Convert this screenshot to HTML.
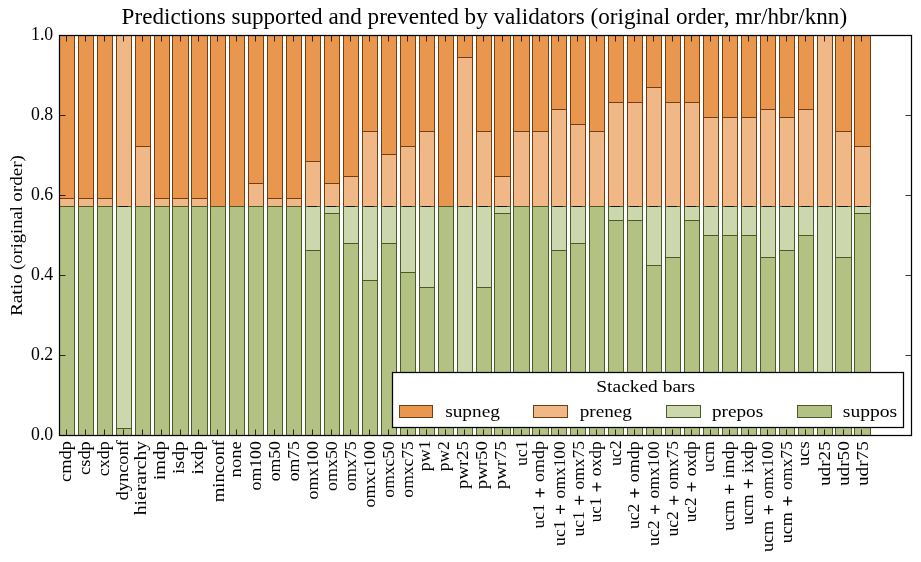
<!DOCTYPE html>
<html><head><meta charset="utf-8"><style>html,body{margin:0;padding:0;background:#fff;width:921px;height:562px;overflow:hidden}</style></head>
<body>
<svg width="921" height="562" viewBox="0 0 921 562" style="display:block;will-change:transform">
<rect width="921" height="562" fill="#fff"/>
<rect x="59.5" y="35.5" width="15" height="163" fill="#e9964f" stroke="#763e10" stroke-width="1"/>
<rect x="59.5" y="198.5" width="15" height="8" fill="#f1b887" stroke="#763e10" stroke-width="1"/>
<path d="M59 206.5H75" stroke="#4b5a26" stroke-width="1"/>
<rect x="59.5" y="206.5" width="15" height="229" fill="#b3c182" stroke="#4b5a26" stroke-width="1"/>
<rect x="78.5" y="35.5" width="15" height="163" fill="#e9964f" stroke="#763e10" stroke-width="1"/>
<rect x="78.5" y="198.5" width="15" height="8" fill="#f1b887" stroke="#763e10" stroke-width="1"/>
<path d="M78 206.5H94" stroke="#4b5a26" stroke-width="1"/>
<rect x="78.5" y="206.5" width="15" height="229" fill="#b3c182" stroke="#4b5a26" stroke-width="1"/>
<rect x="97.5" y="35.5" width="15" height="163" fill="#e9964f" stroke="#763e10" stroke-width="1"/>
<rect x="97.5" y="198.5" width="15" height="8" fill="#f1b887" stroke="#763e10" stroke-width="1"/>
<path d="M97 206.5H113" stroke="#4b5a26" stroke-width="1"/>
<rect x="97.5" y="206.5" width="15" height="229" fill="#b3c182" stroke="#4b5a26" stroke-width="1"/>
<path d="M116 35.5H132" stroke="#763e10" stroke-width="1"/>
<rect x="116.5" y="35.5" width="15" height="171" fill="#f1b887" stroke="#763e10" stroke-width="1"/>
<rect x="116.5" y="206.5" width="15" height="222" fill="#cdd7ad" stroke="#4b5a26" stroke-width="1"/>
<rect x="116.5" y="428.5" width="15" height="7" fill="#b3c182" stroke="#4b5a26" stroke-width="1"/>
<path d="M119 206.5H128" stroke="#141a0e" stroke-width="1"/>
<rect x="135.5" y="35.5" width="15" height="111" fill="#e9964f" stroke="#763e10" stroke-width="1"/>
<rect x="135.5" y="146.5" width="15" height="60" fill="#f1b887" stroke="#763e10" stroke-width="1"/>
<path d="M135 206.5H151" stroke="#4b5a26" stroke-width="1"/>
<rect x="135.5" y="206.5" width="15" height="229" fill="#b3c182" stroke="#4b5a26" stroke-width="1"/>
<rect x="154.5" y="35.5" width="15" height="163" fill="#e9964f" stroke="#763e10" stroke-width="1"/>
<rect x="154.5" y="198.5" width="15" height="8" fill="#f1b887" stroke="#763e10" stroke-width="1"/>
<path d="M154 206.5H170" stroke="#4b5a26" stroke-width="1"/>
<rect x="154.5" y="206.5" width="15" height="229" fill="#b3c182" stroke="#4b5a26" stroke-width="1"/>
<rect x="172.5" y="35.5" width="16" height="163" fill="#e9964f" stroke="#763e10" stroke-width="1"/>
<rect x="172.5" y="198.5" width="16" height="8" fill="#f1b887" stroke="#763e10" stroke-width="1"/>
<path d="M172 206.5H189" stroke="#4b5a26" stroke-width="1"/>
<rect x="172.5" y="206.5" width="16" height="229" fill="#b3c182" stroke="#4b5a26" stroke-width="1"/>
<rect x="191.5" y="35.5" width="16" height="163" fill="#e9964f" stroke="#763e10" stroke-width="1"/>
<rect x="191.5" y="198.5" width="16" height="8" fill="#f1b887" stroke="#763e10" stroke-width="1"/>
<path d="M191 206.5H208" stroke="#4b5a26" stroke-width="1"/>
<rect x="191.5" y="206.5" width="16" height="229" fill="#b3c182" stroke="#4b5a26" stroke-width="1"/>
<rect x="210.5" y="35.5" width="15" height="171" fill="#e9964f" stroke="#763e10" stroke-width="1"/>
<path d="M210 206.5H226" stroke="#763e10" stroke-width="1"/>
<path d="M210 206.5H226" stroke="#4b5a26" stroke-width="1"/>
<rect x="210.5" y="206.5" width="15" height="229" fill="#b3c182" stroke="#4b5a26" stroke-width="1"/>
<rect x="229.5" y="35.5" width="15" height="171" fill="#e9964f" stroke="#763e10" stroke-width="1"/>
<path d="M229 206.5H245" stroke="#763e10" stroke-width="1"/>
<path d="M229 206.5H245" stroke="#4b5a26" stroke-width="1"/>
<rect x="229.5" y="206.5" width="15" height="229" fill="#b3c182" stroke="#4b5a26" stroke-width="1"/>
<rect x="248.5" y="35.5" width="15" height="148" fill="#e9964f" stroke="#763e10" stroke-width="1"/>
<rect x="248.5" y="183.5" width="15" height="23" fill="#f1b887" stroke="#763e10" stroke-width="1"/>
<path d="M248 206.5H264" stroke="#4b5a26" stroke-width="1"/>
<rect x="248.5" y="206.5" width="15" height="229" fill="#b3c182" stroke="#4b5a26" stroke-width="1"/>
<rect x="267.5" y="35.5" width="15" height="163" fill="#e9964f" stroke="#763e10" stroke-width="1"/>
<rect x="267.5" y="198.5" width="15" height="8" fill="#f1b887" stroke="#763e10" stroke-width="1"/>
<path d="M267 206.5H283" stroke="#4b5a26" stroke-width="1"/>
<rect x="267.5" y="206.5" width="15" height="229" fill="#b3c182" stroke="#4b5a26" stroke-width="1"/>
<rect x="286.5" y="35.5" width="15" height="163" fill="#e9964f" stroke="#763e10" stroke-width="1"/>
<rect x="286.5" y="198.5" width="15" height="8" fill="#f1b887" stroke="#763e10" stroke-width="1"/>
<path d="M286 206.5H302" stroke="#4b5a26" stroke-width="1"/>
<rect x="286.5" y="206.5" width="15" height="229" fill="#b3c182" stroke="#4b5a26" stroke-width="1"/>
<rect x="305.5" y="35.5" width="15" height="126" fill="#e9964f" stroke="#763e10" stroke-width="1"/>
<rect x="305.5" y="161.5" width="15" height="45" fill="#f1b887" stroke="#763e10" stroke-width="1"/>
<rect x="305.5" y="206.5" width="15" height="44" fill="#cdd7ad" stroke="#4b5a26" stroke-width="1"/>
<rect x="305.5" y="250.5" width="15" height="185" fill="#b3c182" stroke="#4b5a26" stroke-width="1"/>
<path d="M308 206.5H317" stroke="#141a0e" stroke-width="1"/>
<rect x="324.5" y="35.5" width="15" height="148" fill="#e9964f" stroke="#763e10" stroke-width="1"/>
<rect x="324.5" y="183.5" width="15" height="23" fill="#f1b887" stroke="#763e10" stroke-width="1"/>
<rect x="324.5" y="206.5" width="15" height="7" fill="#cdd7ad" stroke="#4b5a26" stroke-width="1"/>
<rect x="324.5" y="213.5" width="15" height="222" fill="#b3c182" stroke="#4b5a26" stroke-width="1"/>
<path d="M327 206.5H336" stroke="#141a0e" stroke-width="1"/>
<rect x="343.5" y="35.5" width="15" height="141" fill="#e9964f" stroke="#763e10" stroke-width="1"/>
<rect x="343.5" y="176.5" width="15" height="30" fill="#f1b887" stroke="#763e10" stroke-width="1"/>
<rect x="343.5" y="206.5" width="15" height="37" fill="#cdd7ad" stroke="#4b5a26" stroke-width="1"/>
<rect x="343.5" y="243.5" width="15" height="192" fill="#b3c182" stroke="#4b5a26" stroke-width="1"/>
<path d="M346 206.5H355" stroke="#141a0e" stroke-width="1"/>
<rect x="362.5" y="35.5" width="15" height="96" fill="#e9964f" stroke="#763e10" stroke-width="1"/>
<rect x="362.5" y="131.5" width="15" height="75" fill="#f1b887" stroke="#763e10" stroke-width="1"/>
<rect x="362.5" y="206.5" width="15" height="74" fill="#cdd7ad" stroke="#4b5a26" stroke-width="1"/>
<rect x="362.5" y="280.5" width="15" height="155" fill="#b3c182" stroke="#4b5a26" stroke-width="1"/>
<path d="M365 206.5H374" stroke="#141a0e" stroke-width="1"/>
<rect x="381.5" y="35.5" width="15" height="119" fill="#e9964f" stroke="#763e10" stroke-width="1"/>
<rect x="381.5" y="154.5" width="15" height="52" fill="#f1b887" stroke="#763e10" stroke-width="1"/>
<rect x="381.5" y="206.5" width="15" height="37" fill="#cdd7ad" stroke="#4b5a26" stroke-width="1"/>
<rect x="381.5" y="243.5" width="15" height="192" fill="#b3c182" stroke="#4b5a26" stroke-width="1"/>
<path d="M384 206.5H393" stroke="#141a0e" stroke-width="1"/>
<rect x="400.5" y="35.5" width="15" height="111" fill="#e9964f" stroke="#763e10" stroke-width="1"/>
<rect x="400.5" y="146.5" width="15" height="60" fill="#f1b887" stroke="#763e10" stroke-width="1"/>
<rect x="400.5" y="206.5" width="15" height="66" fill="#cdd7ad" stroke="#4b5a26" stroke-width="1"/>
<rect x="400.5" y="272.5" width="15" height="163" fill="#b3c182" stroke="#4b5a26" stroke-width="1"/>
<path d="M403 206.5H412" stroke="#141a0e" stroke-width="1"/>
<rect x="419.5" y="35.5" width="15" height="96" fill="#e9964f" stroke="#763e10" stroke-width="1"/>
<rect x="419.5" y="131.5" width="15" height="75" fill="#f1b887" stroke="#763e10" stroke-width="1"/>
<rect x="419.5" y="206.5" width="15" height="81" fill="#cdd7ad" stroke="#4b5a26" stroke-width="1"/>
<rect x="419.5" y="287.5" width="15" height="148" fill="#b3c182" stroke="#4b5a26" stroke-width="1"/>
<path d="M422 206.5H431" stroke="#141a0e" stroke-width="1"/>
<rect x="438.5" y="35.5" width="15" height="171" fill="#e9964f" stroke="#763e10" stroke-width="1"/>
<path d="M438 206.5H454" stroke="#763e10" stroke-width="1"/>
<path d="M438 206.5H454" stroke="#4b5a26" stroke-width="1"/>
<rect x="438.5" y="206.5" width="15" height="229" fill="#b3c182" stroke="#4b5a26" stroke-width="1"/>
<rect x="457.5" y="35.5" width="15" height="22" fill="#e9964f" stroke="#763e10" stroke-width="1"/>
<rect x="457.5" y="57.5" width="15" height="149" fill="#f1b887" stroke="#763e10" stroke-width="1"/>
<rect x="457.5" y="206.5" width="15" height="214" fill="#cdd7ad" stroke="#4b5a26" stroke-width="1"/>
<rect x="457.5" y="420.5" width="15" height="15" fill="#b3c182" stroke="#4b5a26" stroke-width="1"/>
<path d="M460 206.5H469" stroke="#141a0e" stroke-width="1"/>
<rect x="476.5" y="35.5" width="15" height="96" fill="#e9964f" stroke="#763e10" stroke-width="1"/>
<rect x="476.5" y="131.5" width="15" height="75" fill="#f1b887" stroke="#763e10" stroke-width="1"/>
<rect x="476.5" y="206.5" width="15" height="81" fill="#cdd7ad" stroke="#4b5a26" stroke-width="1"/>
<rect x="476.5" y="287.5" width="15" height="148" fill="#b3c182" stroke="#4b5a26" stroke-width="1"/>
<path d="M479 206.5H488" stroke="#141a0e" stroke-width="1"/>
<rect x="494.5" y="35.5" width="16" height="141" fill="#e9964f" stroke="#763e10" stroke-width="1"/>
<rect x="494.5" y="176.5" width="16" height="30" fill="#f1b887" stroke="#763e10" stroke-width="1"/>
<rect x="494.5" y="206.5" width="16" height="7" fill="#cdd7ad" stroke="#4b5a26" stroke-width="1"/>
<rect x="494.5" y="213.5" width="16" height="222" fill="#b3c182" stroke="#4b5a26" stroke-width="1"/>
<path d="M497 206.5H507" stroke="#141a0e" stroke-width="1"/>
<rect x="513.5" y="35.5" width="16" height="96" fill="#e9964f" stroke="#763e10" stroke-width="1"/>
<rect x="513.5" y="131.5" width="16" height="75" fill="#f1b887" stroke="#763e10" stroke-width="1"/>
<path d="M513 206.5H530" stroke="#4b5a26" stroke-width="1"/>
<rect x="513.5" y="206.5" width="16" height="229" fill="#b3c182" stroke="#4b5a26" stroke-width="1"/>
<rect x="532.5" y="35.5" width="16" height="96" fill="#e9964f" stroke="#763e10" stroke-width="1"/>
<rect x="532.5" y="131.5" width="16" height="75" fill="#f1b887" stroke="#763e10" stroke-width="1"/>
<path d="M532 206.5H549" stroke="#4b5a26" stroke-width="1"/>
<rect x="532.5" y="206.5" width="16" height="229" fill="#b3c182" stroke="#4b5a26" stroke-width="1"/>
<rect x="551.5" y="35.5" width="15" height="74" fill="#e9964f" stroke="#763e10" stroke-width="1"/>
<rect x="551.5" y="109.5" width="15" height="97" fill="#f1b887" stroke="#763e10" stroke-width="1"/>
<rect x="551.5" y="206.5" width="15" height="44" fill="#cdd7ad" stroke="#4b5a26" stroke-width="1"/>
<rect x="551.5" y="250.5" width="15" height="185" fill="#b3c182" stroke="#4b5a26" stroke-width="1"/>
<path d="M554 206.5H563" stroke="#141a0e" stroke-width="1"/>
<rect x="570.5" y="35.5" width="15" height="89" fill="#e9964f" stroke="#763e10" stroke-width="1"/>
<rect x="570.5" y="124.5" width="15" height="82" fill="#f1b887" stroke="#763e10" stroke-width="1"/>
<rect x="570.5" y="206.5" width="15" height="37" fill="#cdd7ad" stroke="#4b5a26" stroke-width="1"/>
<rect x="570.5" y="243.5" width="15" height="192" fill="#b3c182" stroke="#4b5a26" stroke-width="1"/>
<path d="M573 206.5H582" stroke="#141a0e" stroke-width="1"/>
<rect x="589.5" y="35.5" width="15" height="96" fill="#e9964f" stroke="#763e10" stroke-width="1"/>
<rect x="589.5" y="131.5" width="15" height="75" fill="#f1b887" stroke="#763e10" stroke-width="1"/>
<path d="M589 206.5H605" stroke="#4b5a26" stroke-width="1"/>
<rect x="589.5" y="206.5" width="15" height="229" fill="#b3c182" stroke="#4b5a26" stroke-width="1"/>
<rect x="608.5" y="35.5" width="15" height="67" fill="#e9964f" stroke="#763e10" stroke-width="1"/>
<rect x="608.5" y="102.5" width="15" height="104" fill="#f1b887" stroke="#763e10" stroke-width="1"/>
<rect x="608.5" y="206.5" width="15" height="14" fill="#cdd7ad" stroke="#4b5a26" stroke-width="1"/>
<rect x="608.5" y="220.5" width="15" height="215" fill="#b3c182" stroke="#4b5a26" stroke-width="1"/>
<path d="M611 206.5H620" stroke="#141a0e" stroke-width="1"/>
<rect x="627.5" y="35.5" width="15" height="67" fill="#e9964f" stroke="#763e10" stroke-width="1"/>
<rect x="627.5" y="102.5" width="15" height="104" fill="#f1b887" stroke="#763e10" stroke-width="1"/>
<rect x="627.5" y="206.5" width="15" height="14" fill="#cdd7ad" stroke="#4b5a26" stroke-width="1"/>
<rect x="627.5" y="220.5" width="15" height="215" fill="#b3c182" stroke="#4b5a26" stroke-width="1"/>
<path d="M630 206.5H639" stroke="#141a0e" stroke-width="1"/>
<rect x="646.5" y="35.5" width="15" height="52" fill="#e9964f" stroke="#763e10" stroke-width="1"/>
<rect x="646.5" y="87.5" width="15" height="119" fill="#f1b887" stroke="#763e10" stroke-width="1"/>
<rect x="646.5" y="206.5" width="15" height="59" fill="#cdd7ad" stroke="#4b5a26" stroke-width="1"/>
<rect x="646.5" y="265.5" width="15" height="170" fill="#b3c182" stroke="#4b5a26" stroke-width="1"/>
<path d="M649 206.5H658" stroke="#141a0e" stroke-width="1"/>
<rect x="665.5" y="35.5" width="15" height="67" fill="#e9964f" stroke="#763e10" stroke-width="1"/>
<rect x="665.5" y="102.5" width="15" height="104" fill="#f1b887" stroke="#763e10" stroke-width="1"/>
<rect x="665.5" y="206.5" width="15" height="51" fill="#cdd7ad" stroke="#4b5a26" stroke-width="1"/>
<rect x="665.5" y="257.5" width="15" height="178" fill="#b3c182" stroke="#4b5a26" stroke-width="1"/>
<path d="M668 206.5H677" stroke="#141a0e" stroke-width="1"/>
<rect x="684.5" y="35.5" width="15" height="67" fill="#e9964f" stroke="#763e10" stroke-width="1"/>
<rect x="684.5" y="102.5" width="15" height="104" fill="#f1b887" stroke="#763e10" stroke-width="1"/>
<rect x="684.5" y="206.5" width="15" height="14" fill="#cdd7ad" stroke="#4b5a26" stroke-width="1"/>
<rect x="684.5" y="220.5" width="15" height="215" fill="#b3c182" stroke="#4b5a26" stroke-width="1"/>
<path d="M687 206.5H696" stroke="#141a0e" stroke-width="1"/>
<rect x="703.5" y="35.5" width="15" height="82" fill="#e9964f" stroke="#763e10" stroke-width="1"/>
<rect x="703.5" y="117.5" width="15" height="89" fill="#f1b887" stroke="#763e10" stroke-width="1"/>
<rect x="703.5" y="206.5" width="15" height="29" fill="#cdd7ad" stroke="#4b5a26" stroke-width="1"/>
<rect x="703.5" y="235.5" width="15" height="200" fill="#b3c182" stroke="#4b5a26" stroke-width="1"/>
<path d="M706 206.5H715" stroke="#141a0e" stroke-width="1"/>
<rect x="722.5" y="35.5" width="15" height="82" fill="#e9964f" stroke="#763e10" stroke-width="1"/>
<rect x="722.5" y="117.5" width="15" height="89" fill="#f1b887" stroke="#763e10" stroke-width="1"/>
<rect x="722.5" y="206.5" width="15" height="29" fill="#cdd7ad" stroke="#4b5a26" stroke-width="1"/>
<rect x="722.5" y="235.5" width="15" height="200" fill="#b3c182" stroke="#4b5a26" stroke-width="1"/>
<path d="M725 206.5H734" stroke="#141a0e" stroke-width="1"/>
<rect x="741.5" y="35.5" width="15" height="82" fill="#e9964f" stroke="#763e10" stroke-width="1"/>
<rect x="741.5" y="117.5" width="15" height="89" fill="#f1b887" stroke="#763e10" stroke-width="1"/>
<rect x="741.5" y="206.5" width="15" height="29" fill="#cdd7ad" stroke="#4b5a26" stroke-width="1"/>
<rect x="741.5" y="235.5" width="15" height="200" fill="#b3c182" stroke="#4b5a26" stroke-width="1"/>
<path d="M744 206.5H753" stroke="#141a0e" stroke-width="1"/>
<rect x="760.5" y="35.5" width="15" height="74" fill="#e9964f" stroke="#763e10" stroke-width="1"/>
<rect x="760.5" y="109.5" width="15" height="97" fill="#f1b887" stroke="#763e10" stroke-width="1"/>
<rect x="760.5" y="206.5" width="15" height="51" fill="#cdd7ad" stroke="#4b5a26" stroke-width="1"/>
<rect x="760.5" y="257.5" width="15" height="178" fill="#b3c182" stroke="#4b5a26" stroke-width="1"/>
<path d="M763 206.5H772" stroke="#141a0e" stroke-width="1"/>
<rect x="779.5" y="35.5" width="15" height="82" fill="#e9964f" stroke="#763e10" stroke-width="1"/>
<rect x="779.5" y="117.5" width="15" height="89" fill="#f1b887" stroke="#763e10" stroke-width="1"/>
<rect x="779.5" y="206.5" width="15" height="44" fill="#cdd7ad" stroke="#4b5a26" stroke-width="1"/>
<rect x="779.5" y="250.5" width="15" height="185" fill="#b3c182" stroke="#4b5a26" stroke-width="1"/>
<path d="M782 206.5H791" stroke="#141a0e" stroke-width="1"/>
<rect x="798.5" y="35.5" width="15" height="74" fill="#e9964f" stroke="#763e10" stroke-width="1"/>
<rect x="798.5" y="109.5" width="15" height="97" fill="#f1b887" stroke="#763e10" stroke-width="1"/>
<rect x="798.5" y="206.5" width="15" height="29" fill="#cdd7ad" stroke="#4b5a26" stroke-width="1"/>
<rect x="798.5" y="235.5" width="15" height="200" fill="#b3c182" stroke="#4b5a26" stroke-width="1"/>
<path d="M801 206.5H810" stroke="#141a0e" stroke-width="1"/>
<path d="M817 35.5H833" stroke="#763e10" stroke-width="1"/>
<rect x="817.5" y="35.5" width="15" height="171" fill="#f1b887" stroke="#763e10" stroke-width="1"/>
<rect x="817.5" y="206.5" width="15" height="214" fill="#cdd7ad" stroke="#4b5a26" stroke-width="1"/>
<rect x="817.5" y="420.5" width="15" height="15" fill="#b3c182" stroke="#4b5a26" stroke-width="1"/>
<path d="M820 206.5H829" stroke="#141a0e" stroke-width="1"/>
<rect x="835.5" y="35.5" width="16" height="96" fill="#e9964f" stroke="#763e10" stroke-width="1"/>
<rect x="835.5" y="131.5" width="16" height="75" fill="#f1b887" stroke="#763e10" stroke-width="1"/>
<rect x="835.5" y="206.5" width="16" height="51" fill="#cdd7ad" stroke="#4b5a26" stroke-width="1"/>
<rect x="835.5" y="257.5" width="16" height="178" fill="#b3c182" stroke="#4b5a26" stroke-width="1"/>
<path d="M838 206.5H848" stroke="#141a0e" stroke-width="1"/>
<rect x="854.5" y="35.5" width="16" height="111" fill="#e9964f" stroke="#763e10" stroke-width="1"/>
<rect x="854.5" y="146.5" width="16" height="60" fill="#f1b887" stroke="#763e10" stroke-width="1"/>
<rect x="854.5" y="206.5" width="16" height="7" fill="#cdd7ad" stroke="#4b5a26" stroke-width="1"/>
<rect x="854.5" y="213.5" width="16" height="222" fill="#b3c182" stroke="#4b5a26" stroke-width="1"/>
<path d="M857 206.5H867" stroke="#141a0e" stroke-width="1"/>
<rect x="59.5" y="35.5" width="852" height="400" fill="none" stroke="#000" stroke-width="1.25"/>
<path d="M66.5 35.5v6M66.5 435.5v-6M85.5 35.5v6M85.5 435.5v-6M104.5 35.5v6M104.5 435.5v-6M123.5 35.5v6M123.5 435.5v-6M142.5 35.5v6M142.5 435.5v-6M161.5 35.5v6M161.5 435.5v-6M180.5 35.5v6M180.5 435.5v-6M198.5 35.5v6M198.5 435.5v-6M217.5 35.5v6M217.5 435.5v-6M236.5 35.5v6M236.5 435.5v-6M255.5 35.5v6M255.5 435.5v-6M274.5 35.5v6M274.5 435.5v-6M293.5 35.5v6M293.5 435.5v-6M312.5 35.5v6M312.5 435.5v-6M331.5 35.5v6M331.5 435.5v-6M350.5 35.5v6M350.5 435.5v-6M369.5 35.5v6M369.5 435.5v-6M388.5 35.5v6M388.5 435.5v-6M407.5 35.5v6M407.5 435.5v-6M426.5 35.5v6M426.5 435.5v-6M445.5 35.5v6M445.5 435.5v-6M464.5 35.5v6M464.5 435.5v-6M483.5 35.5v6M483.5 435.5v-6M502.5 35.5v6M502.5 435.5v-6M521.5 35.5v6M521.5 435.5v-6M539.5 35.5v6M539.5 435.5v-6M558.5 35.5v6M558.5 435.5v-6M577.5 35.5v6M577.5 435.5v-6M596.5 35.5v6M596.5 435.5v-6M615.5 35.5v6M615.5 435.5v-6M634.5 35.5v6M634.5 435.5v-6M653.5 35.5v6M653.5 435.5v-6M672.5 35.5v6M672.5 435.5v-6M691.5 35.5v6M691.5 435.5v-6M710.5 35.5v6M710.5 435.5v-6M729.5 35.5v6M729.5 435.5v-6M748.5 35.5v6M748.5 435.5v-6M767.5 35.5v6M767.5 435.5v-6M786.5 35.5v6M786.5 435.5v-6M805.5 35.5v6M805.5 435.5v-6M824.5 35.5v6M824.5 435.5v-6M843.5 35.5v6M843.5 435.5v-6M861.5 35.5v6M861.5 435.5v-6M59.5 435.5h6M911.5 435.5h-6M59.5 355.5h6M911.5 355.5h-6M59.5 275.5h6M911.5 275.5h-6M59.5 195.5h6M911.5 195.5h-6M59.5 115.5h6M911.5 115.5h-6M59.5 35.5h6M911.5 35.5h-6" stroke="#000" stroke-width="0.8" fill="none"/>
<text x="53.2" y="439.77" font-family="Liberation Serif" font-size="17.8" text-anchor="end" textLength="22.17" lengthAdjust="spacingAndGlyphs">0.0</text>
<text x="53.2" y="359.77" font-family="Liberation Serif" font-size="17.8" text-anchor="end" textLength="22.17" lengthAdjust="spacingAndGlyphs">0.2</text>
<text x="53.2" y="279.77" font-family="Liberation Serif" font-size="17.8" text-anchor="end" textLength="22.17" lengthAdjust="spacingAndGlyphs">0.4</text>
<text x="53.2" y="199.77" font-family="Liberation Serif" font-size="17.8" text-anchor="end" textLength="22.17" lengthAdjust="spacingAndGlyphs">0.6</text>
<text x="53.2" y="119.77" font-family="Liberation Serif" font-size="17.8" text-anchor="end" textLength="22.17" lengthAdjust="spacingAndGlyphs">0.8</text>
<text x="53.2" y="39.77" font-family="Liberation Serif" font-size="17.8" text-anchor="end" textLength="22.17" lengthAdjust="spacingAndGlyphs">1.0</text>
<text transform="translate(70.72,441.18) rotate(-90)" x="-40.81" y="0" font-family="Liberation Serif" font-size="17.35" textLength="40.81" lengthAdjust="spacingAndGlyphs">cmdp</text>
<text transform="translate(89.66,441.18) rotate(-90)" x="-33.75" y="0" font-family="Liberation Serif" font-size="17.35" textLength="33.75" lengthAdjust="spacingAndGlyphs">csdp</text>
<text transform="translate(108.60,441.18) rotate(-90)" x="-34.96" y="0" font-family="Liberation Serif" font-size="17.35" textLength="34.96" lengthAdjust="spacingAndGlyphs">cxdp</text>
<text transform="translate(127.64,440.06) rotate(-90)" x="-60.51" y="0" font-family="Liberation Serif" font-size="17.35" textLength="60.51" lengthAdjust="spacingAndGlyphs">dynconf</text>
<text transform="translate(146.49,440.78) rotate(-90)" x="-74.56" y="0" font-family="Liberation Serif" font-size="17.35" textLength="74.56" lengthAdjust="spacingAndGlyphs">hierarchy</text>
<text transform="translate(165.43,441.18) rotate(-90)" x="-38.73" y="0" font-family="Liberation Serif" font-size="17.35" textLength="38.73" lengthAdjust="spacingAndGlyphs">imdp</text>
<text transform="translate(184.38,441.18) rotate(-90)" x="-32.79" y="0" font-family="Liberation Serif" font-size="17.35" textLength="32.79" lengthAdjust="spacingAndGlyphs">isdp</text>
<text transform="translate(203.32,441.18) rotate(-90)" x="-33.36" y="0" font-family="Liberation Serif" font-size="17.35" textLength="33.36" lengthAdjust="spacingAndGlyphs">ixdp</text>
<text transform="translate(223.94,440.06) rotate(-90)" x="-62.26" y="0" font-family="Liberation Serif" font-size="17.35" textLength="62.26" lengthAdjust="spacingAndGlyphs">minconf</text>
<text transform="translate(240.60,441.18) rotate(-90)" x="-36.23" y="0" font-family="Liberation Serif" font-size="17.35" textLength="36.23" lengthAdjust="spacingAndGlyphs">none</text>
<text transform="translate(261.40,441.18) rotate(-90)" x="-49.31" y="0" font-family="Liberation Serif" font-size="17.35" textLength="49.31" lengthAdjust="spacingAndGlyphs">om100</text>
<text transform="translate(280.34,441.18) rotate(-90)" x="-40.16" y="0" font-family="Liberation Serif" font-size="17.35" textLength="40.16" lengthAdjust="spacingAndGlyphs">om50</text>
<text transform="translate(299.28,441.18) rotate(-90)" x="-40.16" y="0" font-family="Liberation Serif" font-size="17.35" textLength="40.16" lengthAdjust="spacingAndGlyphs">om75</text>
<text transform="translate(318.23,441.18) rotate(-90)" x="-58.23" y="0" font-family="Liberation Serif" font-size="17.35" textLength="58.23" lengthAdjust="spacingAndGlyphs">omx100</text>
<text transform="translate(337.17,441.18) rotate(-90)" x="-49.80" y="0" font-family="Liberation Serif" font-size="17.35" textLength="49.80" lengthAdjust="spacingAndGlyphs">omx50</text>
<text transform="translate(356.11,441.18) rotate(-90)" x="-49.80" y="0" font-family="Liberation Serif" font-size="17.35" textLength="49.80" lengthAdjust="spacingAndGlyphs">omx75</text>
<text transform="translate(375.06,441.18) rotate(-90)" x="-66.26" y="0" font-family="Liberation Serif" font-size="17.35" textLength="66.26" lengthAdjust="spacingAndGlyphs">omxc100</text>
<text transform="translate(394.00,441.18) rotate(-90)" x="-56.46" y="0" font-family="Liberation Serif" font-size="17.35" textLength="56.46" lengthAdjust="spacingAndGlyphs">omxc50</text>
<text transform="translate(412.94,441.18) rotate(-90)" x="-56.46" y="0" font-family="Liberation Serif" font-size="17.35" textLength="56.46" lengthAdjust="spacingAndGlyphs">omxc75</text>
<text transform="translate(430.19,440.38) rotate(-90)" x="-30.77" y="0" font-family="Liberation Serif" font-size="17.35" textLength="30.77" lengthAdjust="spacingAndGlyphs">pw1</text>
<text transform="translate(449.14,441.18) rotate(-90)" x="-29.97" y="0" font-family="Liberation Serif" font-size="17.35" textLength="29.97" lengthAdjust="spacingAndGlyphs">pw2</text>
<text transform="translate(468.27,441.18) rotate(-90)" x="-47.76" y="0" font-family="Liberation Serif" font-size="17.35" textLength="47.76" lengthAdjust="spacingAndGlyphs">pwr25</text>
<text transform="translate(487.21,441.18) rotate(-90)" x="-48.00" y="0" font-family="Liberation Serif" font-size="17.35" textLength="48.00" lengthAdjust="spacingAndGlyphs">pwr50</text>
<text transform="translate(506.16,441.18) rotate(-90)" x="-48.00" y="0" font-family="Liberation Serif" font-size="17.35" textLength="48.00" lengthAdjust="spacingAndGlyphs">pwr75</text>
<text transform="translate(526.50,440.38) rotate(-90)" x="-25.70" y="0" font-family="Liberation Serif" font-size="17.35" textLength="25.70" lengthAdjust="spacingAndGlyphs">uc1</text>
<text transform="translate(544.29,441.18) rotate(-90)" x="-87.34" y="0" font-family="Liberation Serif" font-size="17.35" textLength="25.02" lengthAdjust="spacingAndGlyphs">uc1</text><path transform="translate(544.29,441.18) rotate(-90)" d="M-56.06 -4.34H-47.04M-51.55 -8.85V0.17" stroke="#000" stroke-width="1.3" fill="none"/><text transform="translate(544.29,441.18) rotate(-90)" x="-40.78" y="0" font-family="Liberation Serif" font-size="17.35" textLength="40.78" lengthAdjust="spacingAndGlyphs">omdp</text>
<text transform="translate(564.68,441.18) rotate(-90)" x="-104.75" y="0" font-family="Liberation Serif" font-size="17.35" textLength="25.54" lengthAdjust="spacingAndGlyphs">uc1</text><path transform="translate(564.68,441.18) rotate(-90)" d="M-72.73 -4.34H-63.71M-68.22 -8.85V0.17" stroke="#000" stroke-width="1.3" fill="none"/><text transform="translate(564.68,441.18) rotate(-90)" x="-57.22" y="0" font-family="Liberation Serif" font-size="17.35" textLength="57.22" lengthAdjust="spacingAndGlyphs">omx100</text>
<text transform="translate(583.62,441.18) rotate(-90)" x="-95.36" y="0" font-family="Liberation Serif" font-size="17.35" textLength="25.30" lengthAdjust="spacingAndGlyphs">uc1</text><path transform="translate(583.62,441.18) rotate(-90)" d="M-63.67 -4.34H-54.65M-59.16 -8.85V0.17" stroke="#000" stroke-width="1.3" fill="none"/><text transform="translate(583.62,441.18) rotate(-90)" x="-48.26" y="0" font-family="Liberation Serif" font-size="17.35" textLength="48.26" lengthAdjust="spacingAndGlyphs">omx75</text>
<text transform="translate(601.12,441.18) rotate(-90)" x="-81.01" y="0" font-family="Liberation Serif" font-size="17.35" textLength="24.64" lengthAdjust="spacingAndGlyphs">uc1</text><path transform="translate(601.12,441.18) rotate(-90)" d="M-50.27 -4.34H-41.25M-45.76 -8.85V0.17" stroke="#000" stroke-width="1.3" fill="none"/><text transform="translate(601.12,441.18) rotate(-90)" x="-35.15" y="0" font-family="Liberation Serif" font-size="17.35" textLength="35.15" lengthAdjust="spacingAndGlyphs">oxdp</text>
<text transform="translate(621.21,440.38) rotate(-90)" x="-25.70" y="0" font-family="Liberation Serif" font-size="17.35" textLength="25.70" lengthAdjust="spacingAndGlyphs">uc2</text>
<text transform="translate(639.01,441.18) rotate(-90)" x="-87.82" y="0" font-family="Liberation Serif" font-size="17.35" textLength="25.15" lengthAdjust="spacingAndGlyphs">uc2</text><path transform="translate(639.01,441.18) rotate(-90)" d="M-56.34 -4.34H-47.32M-51.83 -8.85V0.17" stroke="#000" stroke-width="1.3" fill="none"/><text transform="translate(639.01,441.18) rotate(-90)" x="-41.00" y="0" font-family="Liberation Serif" font-size="17.35" textLength="41.00" lengthAdjust="spacingAndGlyphs">omdp</text>
<text transform="translate(659.39,441.18) rotate(-90)" x="-104.75" y="0" font-family="Liberation Serif" font-size="17.35" textLength="25.54" lengthAdjust="spacingAndGlyphs">uc2</text><path transform="translate(659.39,441.18) rotate(-90)" d="M-72.73 -4.34H-63.71M-68.22 -8.85V0.17" stroke="#000" stroke-width="1.3" fill="none"/><text transform="translate(659.39,441.18) rotate(-90)" x="-57.22" y="0" font-family="Liberation Serif" font-size="17.35" textLength="57.22" lengthAdjust="spacingAndGlyphs">omx100</text>
<text transform="translate(678.33,441.18) rotate(-90)" x="-95.36" y="0" font-family="Liberation Serif" font-size="17.35" textLength="25.30" lengthAdjust="spacingAndGlyphs">uc2</text><path transform="translate(678.33,441.18) rotate(-90)" d="M-63.67 -4.34H-54.65M-59.16 -8.85V0.17" stroke="#000" stroke-width="1.3" fill="none"/><text transform="translate(678.33,441.18) rotate(-90)" x="-48.26" y="0" font-family="Liberation Serif" font-size="17.35" textLength="48.26" lengthAdjust="spacingAndGlyphs">omx75</text>
<text transform="translate(695.84,441.18) rotate(-90)" x="-81.01" y="0" font-family="Liberation Serif" font-size="17.35" textLength="24.64" lengthAdjust="spacingAndGlyphs">uc2</text><path transform="translate(695.84,441.18) rotate(-90)" d="M-50.27 -4.34H-41.25M-45.76 -8.85V0.17" stroke="#000" stroke-width="1.3" fill="none"/><text transform="translate(695.84,441.18) rotate(-90)" x="-35.15" y="0" font-family="Liberation Serif" font-size="17.35" textLength="35.15" lengthAdjust="spacingAndGlyphs">oxdp</text>
<text transform="translate(714.18,441.18) rotate(-90)" x="-30.76" y="0" font-family="Liberation Serif" font-size="17.35" textLength="30.76" lengthAdjust="spacingAndGlyphs">ucm</text>
<text transform="translate(733.72,441.18) rotate(-90)" x="-89.66" y="0" font-family="Liberation Serif" font-size="17.35" textLength="30.73" lengthAdjust="spacingAndGlyphs">ucm</text><path transform="translate(733.72,441.18) rotate(-90)" d="M-52.61 -4.34H-43.59M-48.10 -8.85V0.17" stroke="#000" stroke-width="1.3" fill="none"/><text transform="translate(733.72,441.18) rotate(-90)" x="-37.27" y="0" font-family="Liberation Serif" font-size="17.35" textLength="37.27" lengthAdjust="spacingAndGlyphs">imdp</text>
<text transform="translate(752.67,441.18) rotate(-90)" x="-83.65" y="0" font-family="Liberation Serif" font-size="17.35" textLength="30.41" lengthAdjust="spacingAndGlyphs">ucm</text><path transform="translate(752.67,441.18) rotate(-90)" d="M-47.04 -4.34H-38.02M-42.53 -8.85V0.17" stroke="#000" stroke-width="1.3" fill="none"/><text transform="translate(752.67,441.18) rotate(-90)" x="-31.82" y="0" font-family="Liberation Serif" font-size="17.35" textLength="31.82" lengthAdjust="spacingAndGlyphs">ixdp</text>
<text transform="translate(773.05,441.18) rotate(-90)" x="-110.93" y="0" font-family="Liberation Serif" font-size="17.35" textLength="31.35" lengthAdjust="spacingAndGlyphs">ucm</text><path transform="translate(773.05,441.18) rotate(-90)" d="M-73.04 -4.34H-64.02M-68.53 -8.85V0.17" stroke="#000" stroke-width="1.3" fill="none"/><text transform="translate(773.05,441.18) rotate(-90)" x="-57.48" y="0" font-family="Liberation Serif" font-size="17.35" textLength="57.48" lengthAdjust="spacingAndGlyphs">omx100</text>
<text transform="translate(791.99,441.18) rotate(-90)" x="-102.09" y="0" font-family="Liberation Serif" font-size="17.35" textLength="31.26" lengthAdjust="spacingAndGlyphs">ucm</text><path transform="translate(791.99,441.18) rotate(-90)" d="M-64.32 -4.34H-55.30M-59.81 -8.85V0.17" stroke="#000" stroke-width="1.3" fill="none"/><text transform="translate(791.99,441.18) rotate(-90)" x="-48.80" y="0" font-family="Liberation Serif" font-size="17.35" textLength="48.80" lengthAdjust="spacingAndGlyphs">omx75</text>
<text transform="translate(808.89,441.18) rotate(-90)" x="-24.83" y="0" font-family="Liberation Serif" font-size="17.35" textLength="24.83" lengthAdjust="spacingAndGlyphs">ucs</text>
<text transform="translate(829.93,441.18) rotate(-90)" x="-44.88" y="0" font-family="Liberation Serif" font-size="17.35" textLength="44.88" lengthAdjust="spacingAndGlyphs">udr25</text>
<text transform="translate(848.87,441.18) rotate(-90)" x="-44.88" y="0" font-family="Liberation Serif" font-size="17.35" textLength="44.88" lengthAdjust="spacingAndGlyphs">udr50</text>
<text transform="translate(867.81,441.18) rotate(-90)" x="-44.88" y="0" font-family="Liberation Serif" font-size="17.35" textLength="44.88" lengthAdjust="spacingAndGlyphs">udr75</text>
<text transform="translate(22.00,235.65) rotate(-90)" x="-80.46" y="0" font-family="Liberation Serif" font-size="17.35" textLength="41.75" lengthAdjust="spacingAndGlyphs">Ratio</text><text transform="translate(22.00,235.65) rotate(-90)" x="-34.24" y="0" font-family="Liberation Serif" font-size="17.35" textLength="63.79" lengthAdjust="spacingAndGlyphs">(original</text><text transform="translate(22.00,235.65) rotate(-90)" x="34.01" y="0" font-family="Liberation Serif" font-size="17.35" textLength="46.45" lengthAdjust="spacingAndGlyphs">order)</text>
<text x="484.36" y="24.00" font-family="Liberation Serif" font-size="22.3" text-anchor="middle" textLength="725.58" lengthAdjust="spacingAndGlyphs">Predictions supported and prevented by validators (original order, mr/hbr/knn)</text>
<rect x="392.5" y="372.5" width="511" height="55" fill="#fff" stroke="#000" stroke-width="1.25"/>
<text x="596.32" y="391.90" font-family="Liberation Serif" font-size="17.35" textLength="98.78" lengthAdjust="spacingAndGlyphs">Stacked bars</text>
<rect x="399.5" y="405.5" width="33" height="12" fill="#e9964f" stroke="#763e10" stroke-width="1"/>
<text x="445.16" y="416.50" font-family="Liberation Serif" font-size="17.35" textLength="54.71" lengthAdjust="spacingAndGlyphs">supneg</text>
<rect x="533.5" y="405.5" width="34" height="12" fill="#f1b887" stroke="#763e10" stroke-width="1"/>
<text x="579.66" y="416.50" font-family="Liberation Serif" font-size="17.35" textLength="52.26" lengthAdjust="spacingAndGlyphs">preneg</text>
<rect x="666.5" y="405.5" width="34" height="12" fill="#cdd7ad" stroke="#4b5a26" stroke-width="1"/>
<text x="711.96" y="416.50" font-family="Liberation Serif" font-size="17.35" textLength="51.23" lengthAdjust="spacingAndGlyphs">prepos</text>
<rect x="797.5" y="405.5" width="34" height="12" fill="#b3c182" stroke="#4b5a26" stroke-width="1"/>
<text x="842.82" y="416.50" font-family="Liberation Serif" font-size="17.35" textLength="54.33" lengthAdjust="spacingAndGlyphs">suppos</text>
</svg>
</body></html>
